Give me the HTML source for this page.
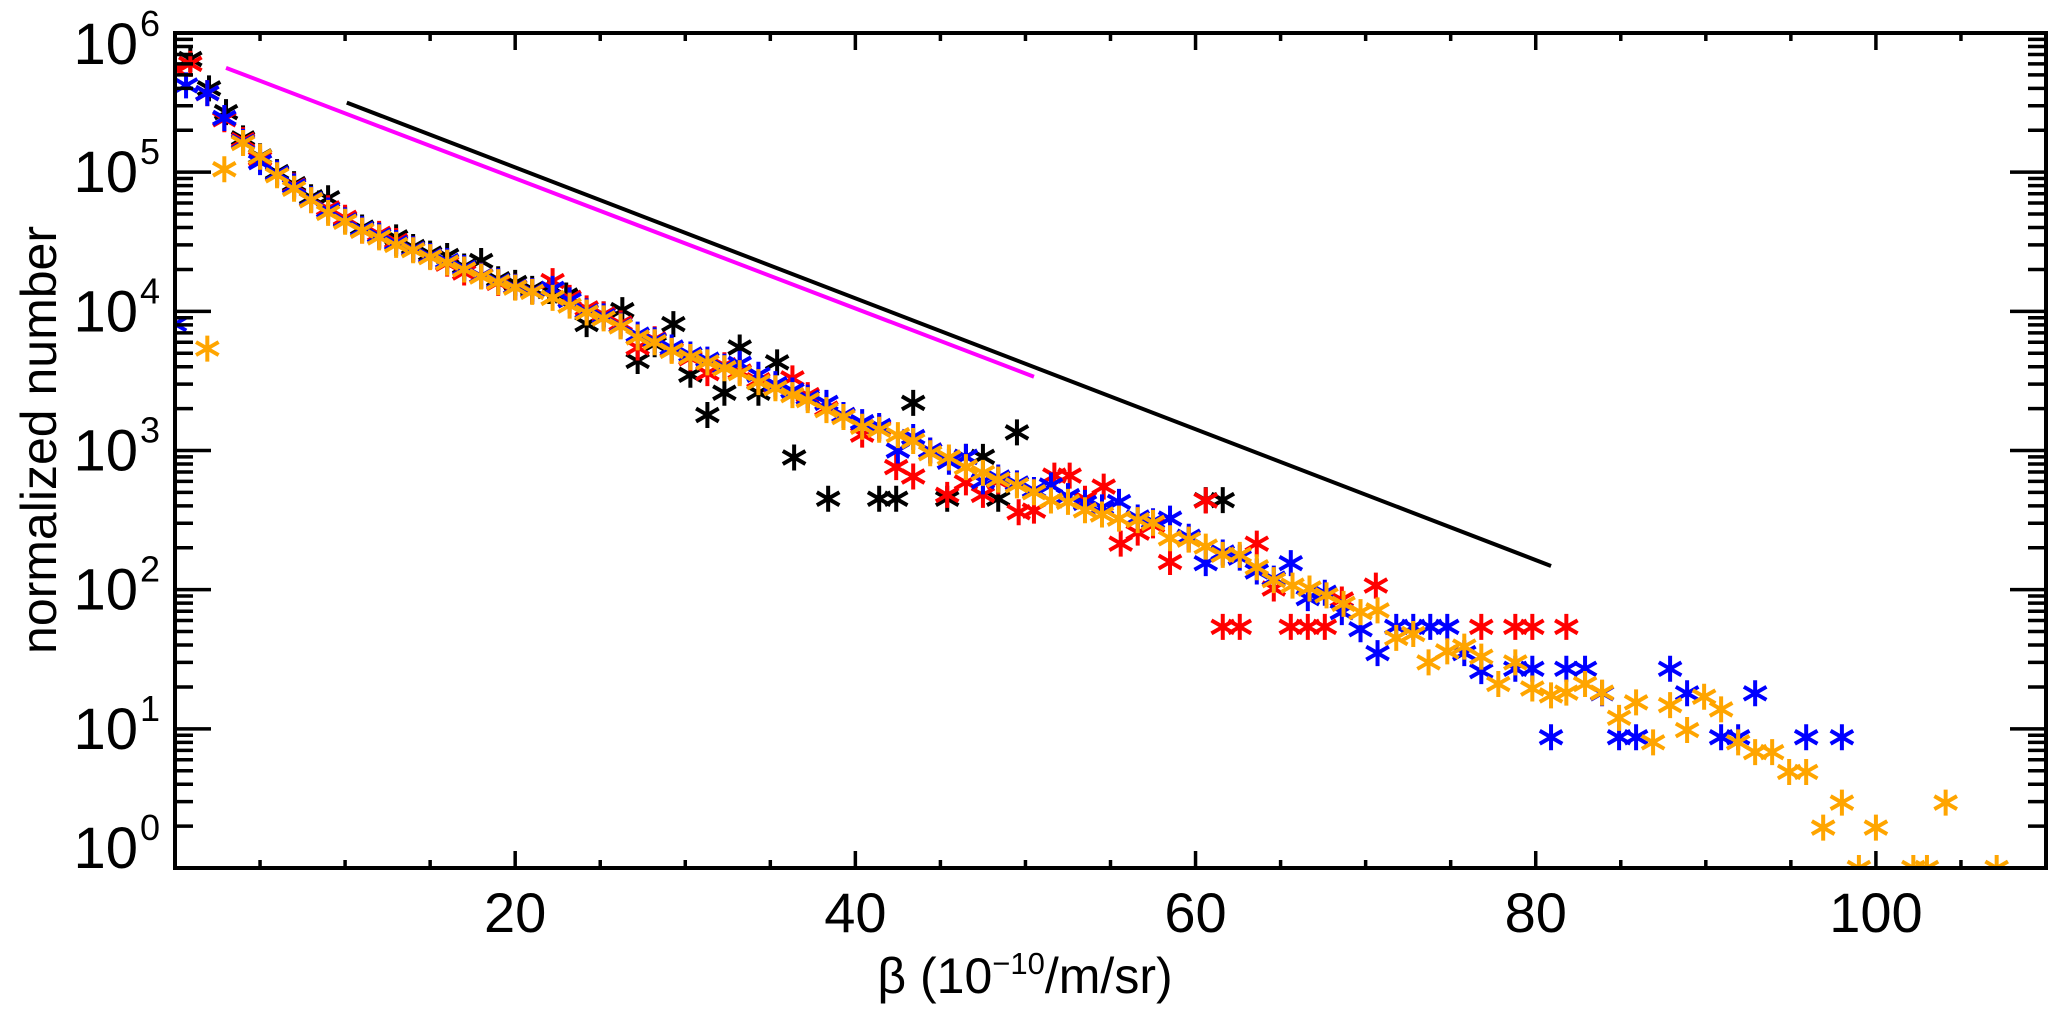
<!DOCTYPE html>
<html><head><meta charset="utf-8"><style>
html,body{margin:0;padding:0;background:#fff;}
svg{display:block;font-family:"Liberation Sans",Arial,sans-serif;}
</style></head><body>
<svg id="chart" width="2067" height="1013" viewBox="0 0 2067 1013">
<defs><clipPath id="plotclip"><rect x="175" y="33" width="1871" height="835"/></clipPath></defs>
<g id="marks" clip-path="url(#plotclip)"></g>
<g id="axes"></g>
<text x="1025" y="993" font-size="50" text-anchor="middle">β (10<tspan font-size="31" dy="-19">−10</tspan><tspan dy="19">/m/sr)</tspan></text>
<text transform="translate(56,440) rotate(-90)" font-size="50" text-anchor="middle">normalized number</text>
</svg>
<script>
const xTicks=[20,40,60,80,100];
const yDecades=[0,1,2,3,4,5,6];
const orangeX=[1.9,2.9,4,5,6,7,8,9,10,11,12,13,14,15,16,17,18,19,20,21,22.2,23.2,24.2,25.2,26.2,27.2,28.2,29.2,30.3,31.3,32.3,33.2,34.3,35.3,36.3,37.2,38.3,39.3,40.4,41.4,42.5,43.4,44.4,45.5,46.5,47.5,48.4,49.5,50.5,51.5,52.5,53.5,54.5,55.5,56.6,57.5,58.5,59.6,60.6,61.6,62.6,63.6,64.6,65.7,66.7,67.7,68.7,69.7,70.7,71.8,72.8,73.7,74.8,75.8,76.8,77.8,78.8,79.8,80.9,81.8,82.9,83.9,84.9,85.9,86.9,87.9,88.9,89.9,90.9,91.9,92.9,93.9,94.9,95.9,96.9,98,99,100,102.2,103,104.1,107.1];
const orangeY=[5400,105000,162000,129000,95000,76000,63000,51000,44000,38000,34000,30000,27500,24500,22400,20000,17800,16200,14800,13800,12500,11000,9800,8900,7800,6500,6000,5200,4700,4300,3900,3600,3100,2800,2500,2300,1950,1740,1480,1410,1290,1170,955,890,760,690,617,562,501,437,427,372,347,324,316,302,234,229,204,178,178,145,117,107,102,91,79,69,71,45,48,30,36,39,33,21,30,19.5,17.4,18.2,21,18.2,12,15.5,8,14.8,9.8,17,13.8,8,6.8,6.8,4.9,4.9,1.95,2.95,1,1.95,1,1,2.95,1];
const blueX=[0,0.65,1.9,2.9,4,5,6,7,8,9,10,11,12,13,14,15,16,17,18,19,20,21,22.2,23.2,24.2,25.2,26.2,27.2,28.2,29.2,30.3,31.3,32.3,33.2,34.3,35.3,36.3,37.2,38.3,39.3,40.4,41.4,42.5,43.4,44.4,45.5,46.5,47.5,48.4,49.5,50.5,51.5,52.5,53.5,54.5,55.5,56.6,57.5,58.5,59.6,60.6,61.6,62.6,63.6,64.6,65.6,66.6,67.6,68.6,69.7,70.7,71.8,72.8,73.8,74.8,75.8,76.8,78.8,79.8,80.9,81.8,82.9,83.9,84.9,85.9,87.9,88.9,90.9,91.9,92.9,95.9,98];
const blueY=[8100,420000,370000,245000,165000,118000,98000,79000,64000,53000,45000,39000,35000,31000,28000,25000,23000,20500,18000,16500,15000,14000,14500,12000,10000,9200,7900,6800,6200,5500,4900,4500,4000,4200,3500,3000,2700,2400,2200,1800,1600,1500,1000,1250,1000,830,900,600,640,580,520,560,470,420,390,427,330,310,324,240,155,185,170,135,120,155,87,95,69,52,35,54,54,54,54,35,26,27,27,8.7,27,27,18,8.7,8.7,27,18,8.7,8.7,18,8.7,8.7];
const redX=[0,0.9,1.9,2.9,4,5,6,7,8,9,10,11,12,13,14,15,16,17,18,19,20,21,22.2,23.2,24.2,25.2,26.2,27.2,28.2,29.2,30.3,31.3,32.3,33.2,34.3,35.3,36.3,37.2,38.3,39.3,40.4,41.4,42.4,43.4,44.4,45.4,46.5,47.5,48.4,49.6,50.5,51.7,52.6,53.5,54.6,55.6,56.6,57.5,58.5,59.6,60.6,61.6,62.6,63.6,64.6,65.6,66.6,67.6,68.6,70.6,76.8,78.8,79.8,81.8];
const redY=[550000,600000,370000,240000,170000,125000,97000,80000,63000,55000,47000,38000,36000,32000,28000,25000,22000,19000,18000,16000,15000,14000,16500,12500,10500,9500,8200,5500,6300,5300,4600,3600,4100,3700,3200,2900,3300,2500,2000,1800,1300,1450,760,650,1000,480,590,480,600,360,370,660,660,450,550,214,257,290,158,230,437,54,54,214,102,54,54,54,85,107,54,54,54,54];
const blackX=[0.9,2,3,4,5,6,7,8,9,10,11,12,13,14,15,16,17,18,19,20,21,22,23,24.2,25.2,26.3,27.2,28.2,29.3,30.3,31.3,32.3,33.2,34.3,35.4,36.4,38.4,41.4,42.4,43.4,45.4,46.5,47.5,48.4,49.5,60.6,61.6];
const blackY=[650000,400000,270000,175000,130000,100000,82000,66000,65000,46000,40000,35000,34000,29000,26000,25000,21000,23000,17000,16000,14500,14000,13000,8100,9500,10200,4400,5800,8100,3500,1800,2600,5500,2600,4300,890,450,450,450,2200,450,900,900,450,1350,440,440];
const magentaLineX=[3.0,50.5];
const magentaLineY=[562000,3390];
const blackLineX=[10.1,80.9];
const blackLineY=[316000,148];

const NS="http://www.w3.org/2000/svg";
const L=175,R=2046,T=33,B=868,XMAX=110,DEC=(B-T)/6;
function sx(v){return L+v*(R-L)/XMAX;}
function sy(v){return B-Math.log10(v)*DEC;}
function mk(tag,attrs,parent){const e=document.createElementNS(NS,tag);for(const k in attrs)e.setAttribute(k,attrs[k]);parent.appendChild(e);return e;}
const marks=document.getElementById('marks');
const axes=document.getElementById('axes');

function series(xs,ys,color,name){
  const g=mk('g',{},marks);
  
  
  const h=13;
  for(let i=0;i<xs.length;i++){
    const cx=sx(xs[i]),cy=sy(ys[i]);
    const d=`M${cx},${cy-h}L${cx},${cy+h}M${cx-h*0.87},${cy-h*0.5}L${cx+h*0.87},${cy+h*0.5}M${cx-h*0.87},${cy+h*0.5}L${cx+h*0.87},${cy-h*0.5}`;
    const p=mk('path',{d:d,stroke:color,'stroke-width':4,fill:'none'},g);
    
    
  }
}
function line(xs,ys,color,name){
  const p=mk('line',{x1:sx(xs[0]),y1:sy(ys[0]),x2:sx(xs[1]),y2:sy(ys[1]),stroke:color,'stroke-width':4},marks);
  
  
}
series(blackX,blackY,'#000000','black');
series(redX,redY,'#ff0000','red');
series(blueX,blueY,'#0000ff','blue');
series(orangeX,orangeY,'#ffa500','orange');
line(magentaLineX,magentaLineY,'#ff00ff','magenta-fit-line');
line(blackLineX,blackLineY,'#000000','black-fit-line');

const fr=mk('rect',{x:L,y:T,width:R-L,height:B-T,fill:'none',stroke:'#000','stroke-width':4},axes);


for(let v=5;v<XMAX;v+=5){
  const major=xTicks.includes(v);const len=major?17:8;const x=sx(v);
  mk('line',{x1:x,y1:B,x2:x,y2:B-len,stroke:'#000','stroke-width':3.5},axes);
  mk('line',{x1:x,y1:T,x2:x,y2:T+len,stroke:'#000','stroke-width':3.5},axes);
}
xTicks.forEach(v=>{
  const t=mk('text',{x:sx(v),y:932,'font-size':56,'text-anchor':'middle'},axes);
  t.textContent=String(v);
  
  
});
yDecades.forEach(d=>{
  const y=sy(Math.pow(10,d));
  mk('line',{x1:L,y1:y,x2:L+36,y2:y,stroke:'#000','stroke-width':3.5},axes);
  mk('line',{x1:R,y1:y,x2:R-36,y2:y,stroke:'#000','stroke-width':3.5},axes);
  if(d<6){for(let m=2;m<=9;m++){const ym=sy(m*Math.pow(10,d));
    mk('line',{x1:L,y1:ym,x2:L+18,y2:ym,stroke:'#000','stroke-width':3.5},axes);
    mk('line',{x1:R,y1:ym,x2:R-18,y2:ym,stroke:'#000','stroke-width':3.5},axes);}}
  let base=y+20; if(d===6)base=64; if(d===0)base=868;
  const t=mk('text',{x:138,y:base,'font-size':58,'text-anchor':'end'},axes);
  t.textContent='10';
  
  
  const s=mk('text',{x:140,y:base-28,'font-size':36,'text-anchor':'start'},axes);
  s.textContent=String(d);
  
  
});
</script>
</body></html>
